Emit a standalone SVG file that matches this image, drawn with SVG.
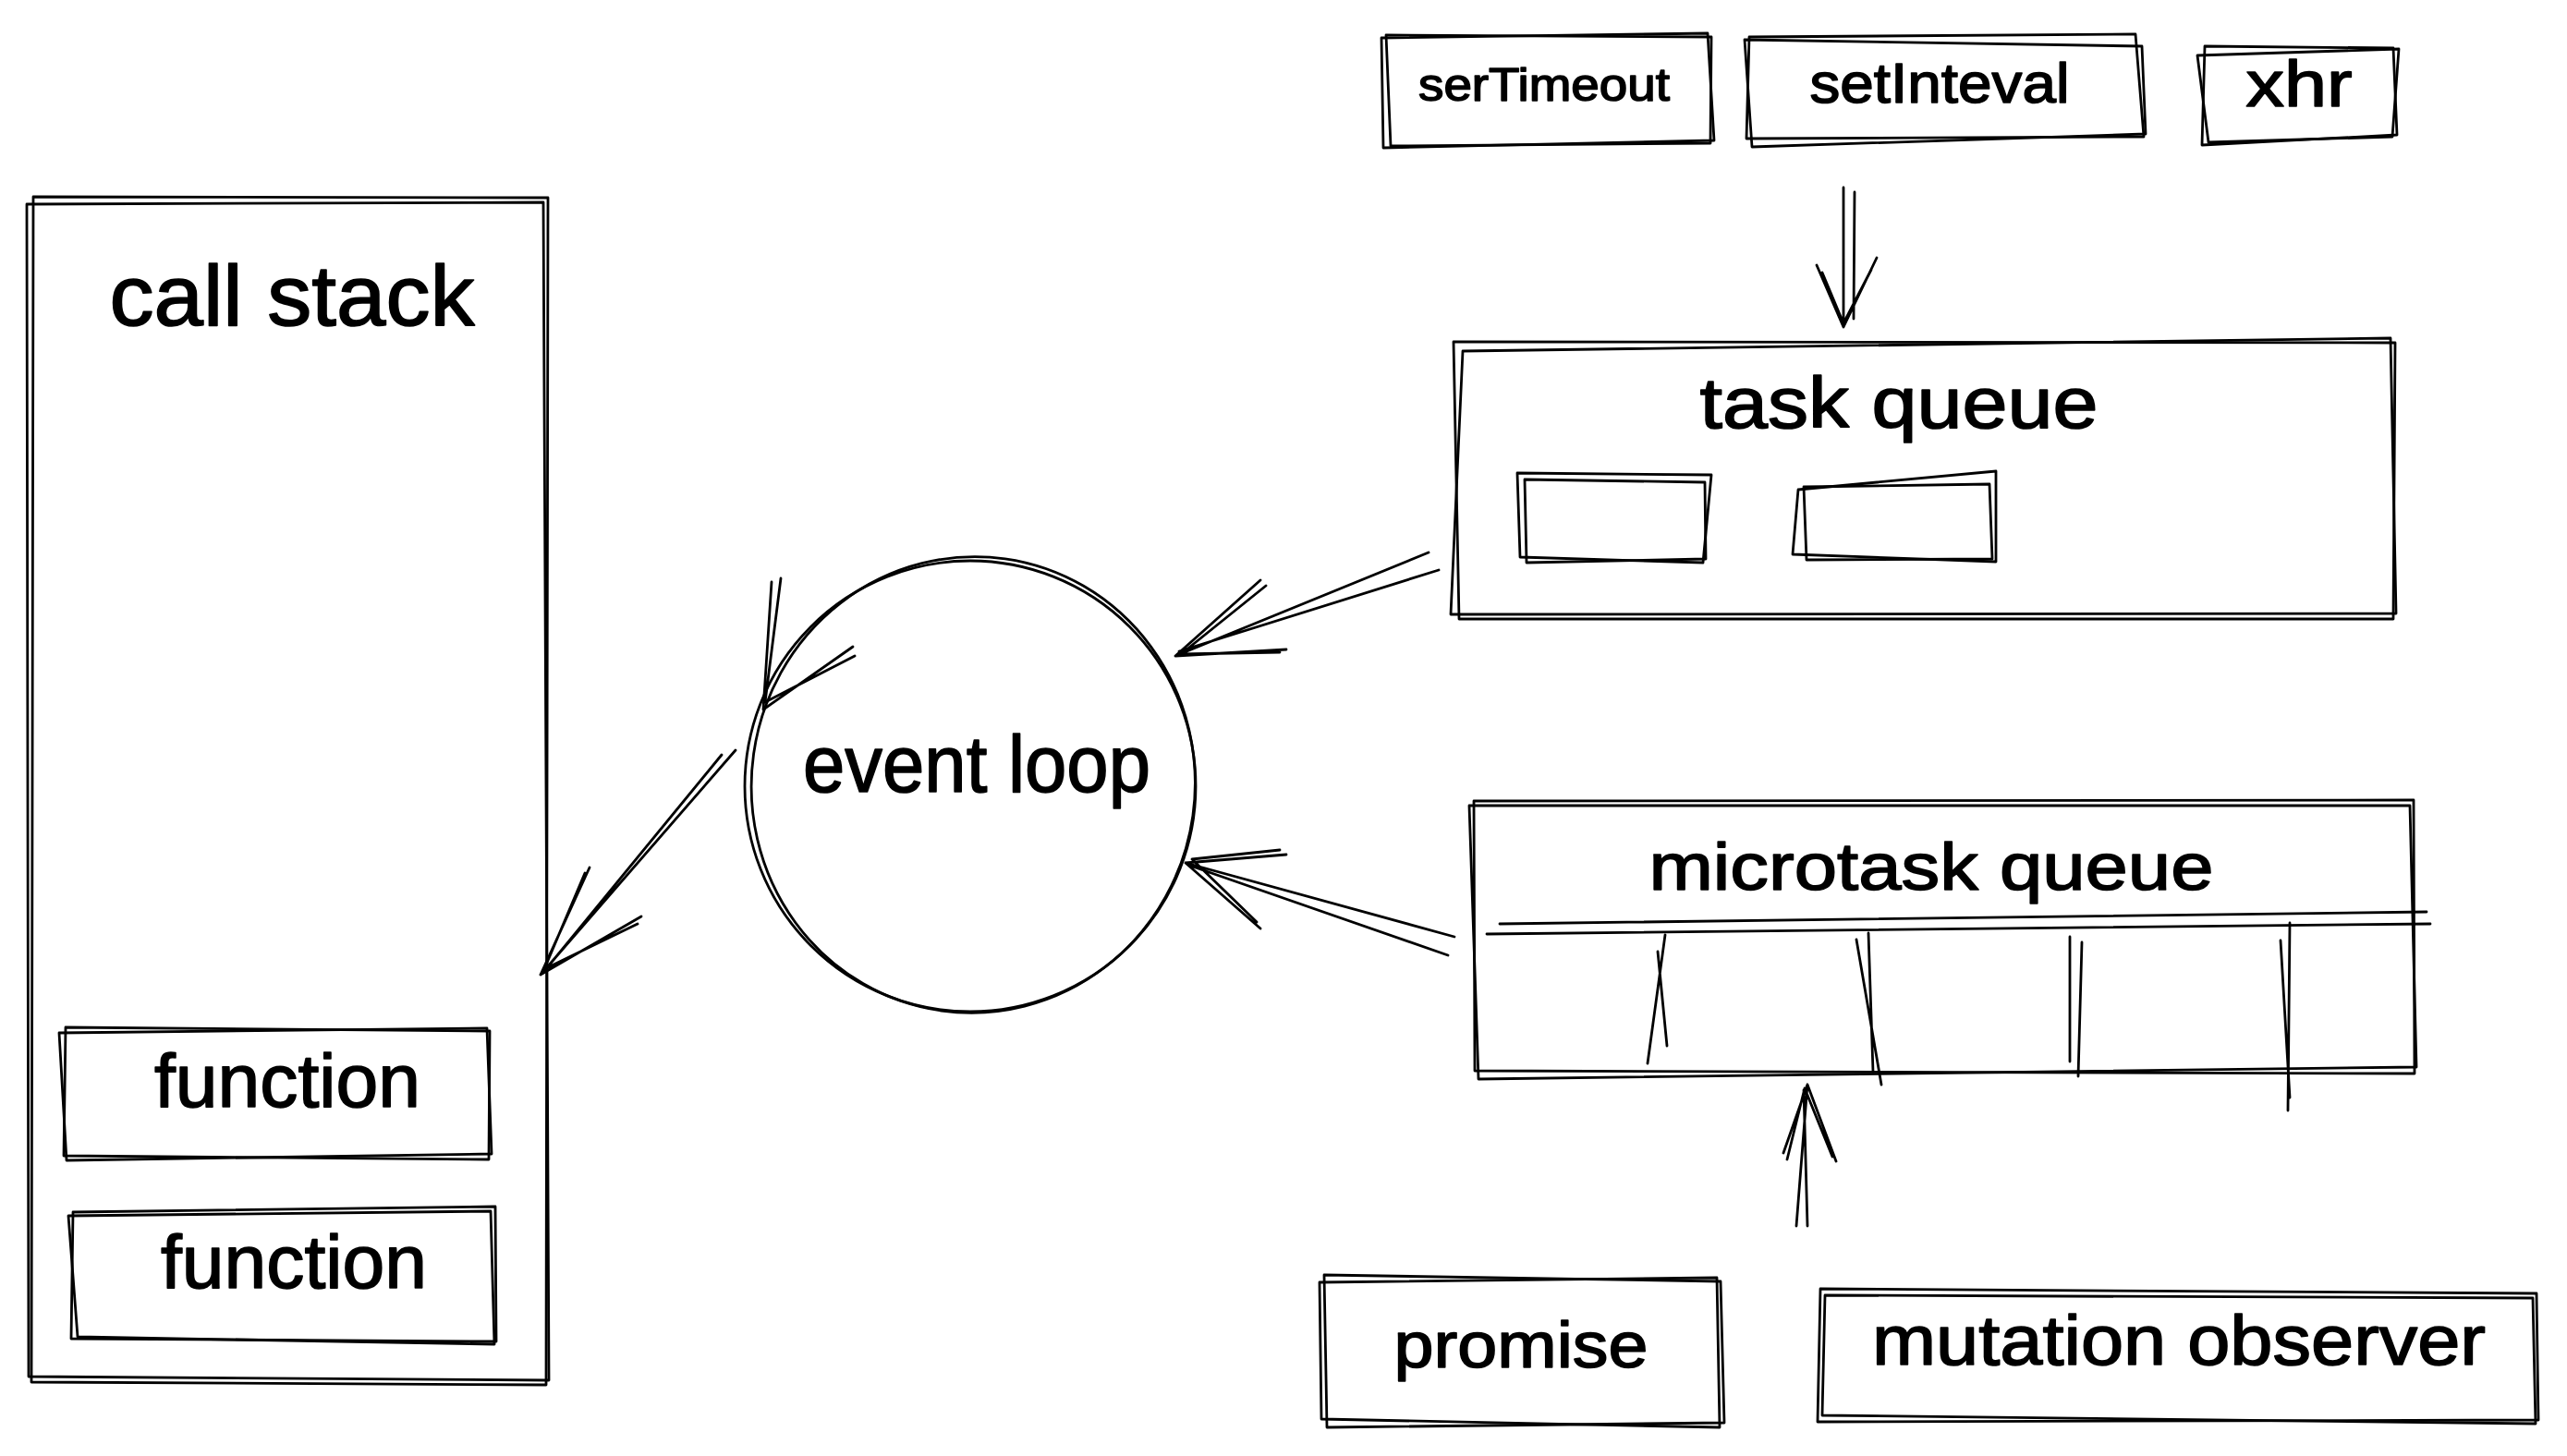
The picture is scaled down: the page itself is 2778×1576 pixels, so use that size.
<svg xmlns="http://www.w3.org/2000/svg" width="2778" height="1576" viewBox="0 0 2778 1576">
<style>
.sk{fill:none;stroke:#000;stroke-width:2.8;stroke-linecap:round;stroke-linejoin:round}
.t{font-family:"Liberation Sans",Arial,sans-serif;fill:#000;stroke:#000;stroke-width:1.6;stroke-linejoin:round;text-anchor:middle}
</style>
<rect width="2778" height="1576" fill="#fff"/>
<g id="call-stack">
<path class="sk" d="M36 213 L593 214 L591 1499 L34 1496 Z"/>
<path class="sk" d="M29 221 L588 219 L594 1494 L31 1490 Z"/>
<text class="t" x="316" y="352" font-size="92" textLength="395" lengthAdjust="spacingAndGlyphs">call stack</text>
</g>
<g id="function-1">
<path class="sk" d="M71 1112 L530 1116 L529 1255 L69 1251 Z"/>
<path class="sk" d="M64 1118 L527 1113 L532 1249 L72 1256 Z"/>
<text class="t" x="311" y="1198" font-size="82" textLength="288" lengthAdjust="spacingAndGlyphs">function</text>
</g>
<g id="function-2">
<path class="sk" d="M79 1312 L536 1306 L537 1452 L77 1449 Z"/>
<path class="sk" d="M74 1316 L531 1311 L535 1455 L84 1447 Z"/>
<text class="t" x="318" y="1394" font-size="82" textLength="288" lengthAdjust="spacingAndGlyphs">function</text>
</g>
<g id="event-loop">
<ellipse class="sk" cx="1050" cy="851" rx="244" ry="244"/>
<ellipse class="sk" cx="1053" cy="849" rx="240" ry="247" transform="rotate(8 1050 851)"/>
<text class="t" x="1057" y="857" font-size="88" textLength="376" lengthAdjust="spacingAndGlyphs">event loop</text>
</g>
<g id="serTimeout">
<path class="sk" d="M1500 38 L1852 40 L1851 155 L1505 158 Z"/>
<path class="sk" d="M1495 41 L1848 36 L1855 152 L1497 160 Z"/>
<text class="t" x="1671" y="109" font-size="50" textLength="272" lengthAdjust="spacingAndGlyphs">serTimeout</text>
</g>
<g id="setInteval">
<path class="sk" d="M1893 40 L2311 37 L2320 148 L1890 150 Z"/>
<path class="sk" d="M1888 43 L2318 50 L2322 145 L1896 159 Z"/>
<text class="t" x="2099" y="111" font-size="62" textLength="281" lengthAdjust="spacingAndGlyphs">setInteval</text>
</g>
<g id="xhr">
<path class="sk" d="M2386 50 L2590 52 L2594 146 L2383 157 Z"/>
<path class="sk" d="M2378 60 L2596 53 L2589 148 L2390 154 Z"/>
<text class="t" x="2488" y="115" font-size="70" textLength="115" lengthAdjust="spacingAndGlyphs">xhr</text>
</g>
<g id="task-queue">
<path class="sk" d="M1573 370 L2592 371 L2590 670 L1579 670 Z"/>
<path class="sk" d="M1583 380 L2587 366 L2593 664 L1570 665 Z"/>
<text class="t" x="2055" y="463" font-size="78" textLength="431" lengthAdjust="spacingAndGlyphs">task queue</text>
<path class="sk" d="M1650 519 L1845 522 L1846 605 L1652 609 Z"/>
<path class="sk" d="M1642 512 L1852 514 L1843 609 L1645 603 Z"/>
<path class="sk" d="M1952 527 L2153 524 L2156 605 L1955 606 Z"/>
<path class="sk" d="M1946 530 L2160 510 L2160 608 L1940 600 Z"/>
</g>
<g id="microtask-queue">
<path class="sk" d="M1595 867 L2612 866 L2613 1162 L1596 1159 Z"/>
<path class="sk" d="M1590 872 L2608 872 L2615 1155 L1600 1168 Z"/>
<path class="sk" d="M1623 1000 L2626 987 M1609 1011 L2630 1000"/>
<path class="sk" d="M1802 1012 L1783 1151 M1794 1030 L1804 1132 M2009 1017 L2036 1174 M2022 1010 L2027 1160 M2240 1014 L2240 1149 M2253 1020 L2249 1165 M2478 999 L2476 1202 M2468 1018 L2478 1188"/>
<text class="t" x="2090" y="963" font-size="72" textLength="611" lengthAdjust="spacingAndGlyphs">microtask queue</text>
</g>
<g id="promise">
<path class="sk" d="M1433 1380 L1862 1387 L1866 1540 L1436 1545 Z"/>
<path class="sk" d="M1428 1388 L1858 1383 L1861 1545 L1430 1536 Z"/>
<text class="t" x="1646" y="1480" font-size="70" textLength="275" lengthAdjust="spacingAndGlyphs">promise</text>
</g>
<g id="mutation-observer">
<path class="sk" d="M1970 1395 L2745 1400 L2747 1537 L1967 1539 Z"/>
<path class="sk" d="M1975 1402 L2741 1405 L2744 1541 L1972 1532 Z"/>
<text class="t" x="2358" y="1477" font-size="76" textLength="664" lengthAdjust="spacingAndGlyphs">mutation observer</text>
</g>
<g id="connectors">
<path class="sk" d="M1995 203 L1995 354 M2007 208 L2006 345 M1966 287 L1995 354 L2031 279 M1972 295 L1995 350 L2025 292"/>
<path class="sk" d="M1546 598 L1272 710 M1557 617 L1276 705 M1364 628 L1272 710 L1392 703 M1370 634 L1278 708 L1385 706"/>
<path class="sk" d="M1574 1014 L1283 934 M1567 1034 L1288 937 M1392 925 L1283 934 L1364 1005 M1385 920 L1290 930 L1360 998"/>
<path class="sk" d="M796 812 L585 1055 M781 817 L590 1050 M638 939 L585 1055 L694 992 M633 945 L589 1049 L690 1000"/>
<path class="sk" d="M1944 1327 L1956 1174 M1956 1327 L1952 1180 M1930 1248 L1956 1174 L1987 1257 M1934 1255 L1953 1178 L1983 1252"/>
<path class="sk" d="M835 630 L826 768 L923 700 M845 626 L828 760 L925 710"/>
</g>
</svg>
